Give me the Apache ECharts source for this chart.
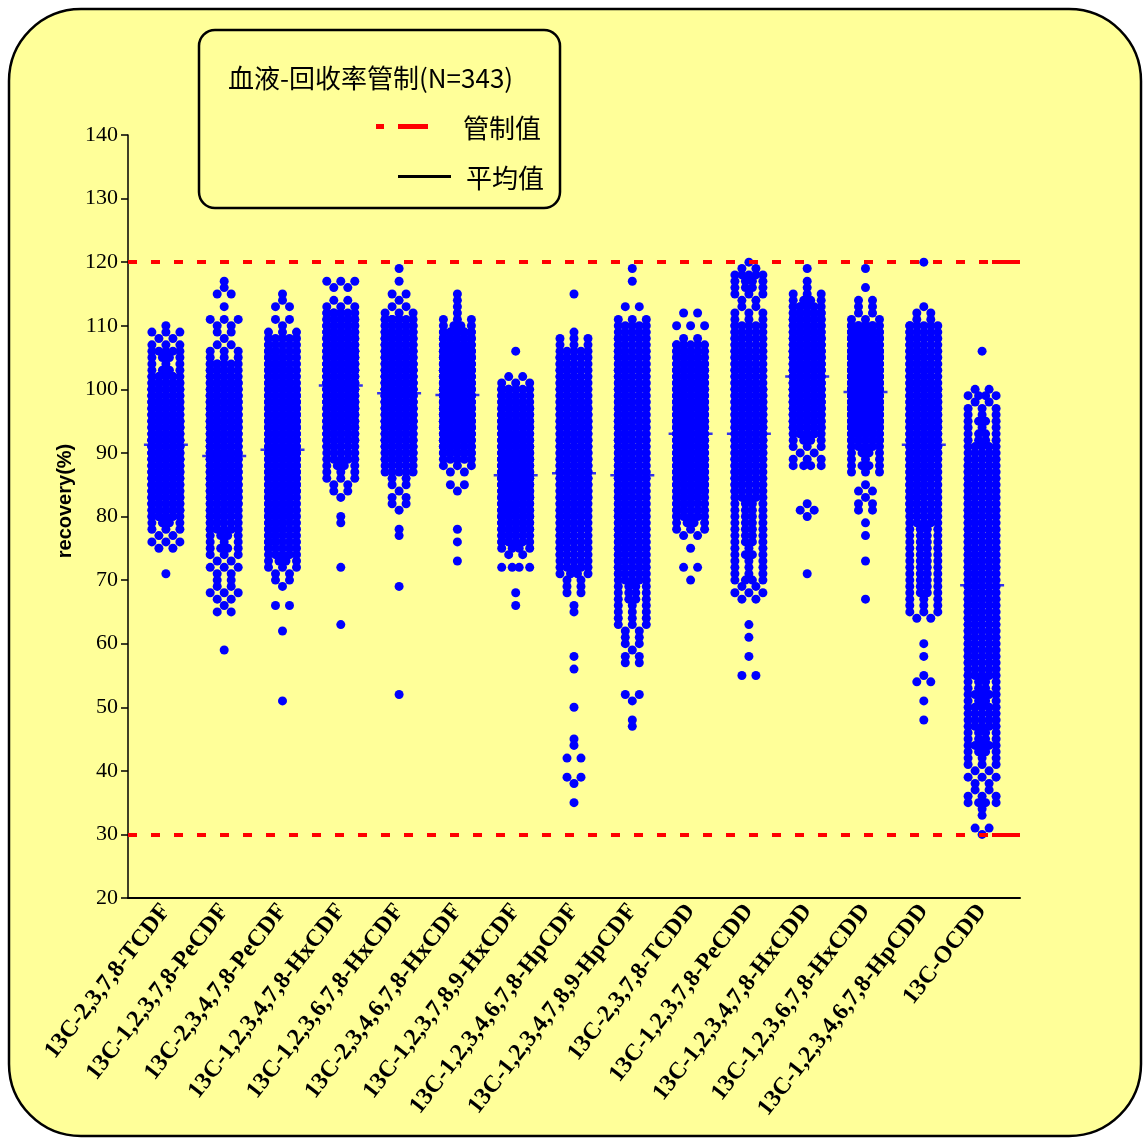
<!DOCTYPE html>
<html>
<head>
<meta charset="utf-8">
<script src="https://cdn.jsdelivr.net/npm/echarts@6/dist/echarts.min.js"></script>
<style>
html,body{margin:0;padding:0;background:#fff;}
#chart{width:1144px;height:1138px;}
</style>
</head>
<body>
<div id="chart"></div>
<script>
// ---------------- data ----------------
const categories = [
  '13C-2,3,7,8-TCDF','13C-1,2,3,7,8-PeCDF','13C-2,3,4,7,8-PeCDF','13C-1,2,3,4,7,8-HxCDF',
  '13C-1,2,3,6,7,8-HxCDF','13C-2,3,4,6,7,8-HxCDF','13C-1,2,3,7,8,9-HxCDF','13C-1,2,3,4,6,7,8-HpCDF',
  '13C-1,2,3,4,7,8,9-HpCDF','13C-2,3,7,8-TCDD','13C-1,2,3,7,8-PeCDD','13C-1,2,3,4,7,8-HxCDD',
  '13C-1,2,3,6,7,8-HxCDD','13C-1,2,3,4,6,7,8-HpCDD','13C-OCDD'
];
const yTicks = [20,30,40,50,60,70,80,90,100,110,120,130,140];
const controlLimits = [120, 30];
const means = [91.3, 89.5, 90.5, 100.6, 99.4, 99.1, 86.5, 86.8, 86.5, 93.0, 93.0, 102.0, 99.6, 91.3, 69.2];
// first recovery value (%) of each count list; counts are per 1% bin
const binStart = [71, 59, 51, 63, 52, 73, 66, 35, 47, 70, 55, 71, 67, 48, 30];

const cnt00 = [1,0,0,0,2,3,2,3,4, 8,10,11,12,13,14,14,15,15,15,16,16,16,15,15,15,14,14,13,12,11,10,9, 4,3,4,5,3,2,3,1];
const cnt01 = [1,0,0,0,0,0,2,1,2,3,2,2,2,3,2,3,4,3,4,
               6,7,8,9,10,10,12,12,13,13,13,13,13,13,12,12,12,12,11,11,11,11,10,10,9,8,7,
               3,3,2,1,2,2,3,0,1,0,2,1,1];
const cnt02 = [1,0,0,0,0,0,0,0,0,0,0,1,0,0,0,2,0,0,1,2,2,3,4,
               5,6,7,7,8,8,9,9,9,9,10,10,10,10,10,10,10,10,10,10,10,10,10,10,10,10,10,9,9,9,8,8,7,6,5,
               3,1,2,0,2,1,1];
const cnt03 = [1,0,0,0,0,0,0,0,0,1,0,0,0,0,0,0,1,1,0,0,1,2,2,3,3,4,5,5,
               8,10,12,13,14,15,15,16,16,16,16,16,16,16,15,15,14,13,12,11,10,8,
               3,2,0,2,3];
const cnt04 = [1,0,0,0,0,0,0,0,0,0,0,0,0,0,0,0,0,1,0,0,0,0,0,0,0,1,1,0,0,1,2,2,1,2,2,5,5,
               8,10,11,12,13,14,15,15,15,16,16,16,16,16,15,15,14,14,13,12,11,10,8,
               3,2,1,2,0,1,0,1];
const cnt05 = [1,0,0,1,0,1,0,0,0,0,0,1,2,0,2,3,5,
               10,12,14,15,16,17,17,18,18,18,18,18,17,17,16,16,15,14,12,10,
               4,3,1,1,1,1];
const cnt06 = [1,0,1,0,0,0,4,0,2,4,
               7,8,10,11,12,13,14,15,15,16,16,16,16,16,15,15,14,14,13,12,11,10,9,8,7,
               3,2,0,0,0,1];
const cnt07 = [1,0,0,1,2,0,0,2,0,1,1,0,0,0,0,1,0,0,0,0,0,1,0,1,0,0,0,0,0,0,1,1,0,2,2,2,
               4,5,5,6,6,7,7,8,8,9,9,9,10,10,10,10,10,10,10,10,10,10,10,10,10,10,10,9,9,9,9,8,8,7,6,5,
               3,3,1,0,0,0,0,0,1];
const cnt08 = [1,1,0,0,1,2,0,0,0,0,2,2,1,2,2,2,3,3,
               3,3,4,4,4,5,6,6,6,6,7,7,7,7,7,7,7,7,7,7,7,7,7,7,7,7,7,7,7,7,7,7,7,7,7,7,7,7,7,7,7,6,6,6,5,5,
               3,0,2,0,0,0,1,0,1];
const cnt09 = [1,0,2,0,0,1,0,2,3,4,
               6,7,8,9,10,11,12,12,13,13,13,13,13,13,13,13,13,13,13,12,12,12,11,11,10,9,8,7,
               2,0,3,0,2];
const cnt10 = [2,0,0,1,0,0,1,0,1,0,0,0,2,3,2,4,3,3,3,4,3,4,4,4,4,4,4,4,5,
               6,7,8,8,9,9,10,10,10,10,10,10,10,10,10,10,10,9,9,9,8,8,8,7,7,6,6,
               3,3,2,2,3,4,4,5,2,1];
const cnt11 = [1,0,0,0,0,0,0,0,0,1,2,1,0,0,0,0,0,4,3,2,3,4,
               9,11,13,14,15,16,16,17,17,17,17,17,16,16,15,15,14,13,12,10,8,
               4,3,1,1,0,1];
const cnt12 = [1,0,0,0,0,0,1,0,0,0,1,0,1,0,2,2,1,2,1,0,3,4,3,4,5,
               10,12,14,15,16,17,17,18,18,18,18,17,17,16,15,14,13,11,9,
               3,2,2,2,0,1,0,0,1];
const cnt13 = [1,0,0,1,0,0,2,1,0,0,1,0,1,0,0,0,2,3,3,3,4,4,4,4,4,4,4,4,4,4,4,5,5,
               6,7,7,8,8,9,9,9,9,10,10,10,10,10,10,10,10,10,10,10,9,9,9,9,8,8,7,7,6,6,
               2,2,1,0,0,0,0,0,0,1];
const cnt14 = [1,2,0,1,1,4,3,2,2,3, 2,3,3,4,5,4,4,5,5,5, 5,4,5,4,4,6,5,6,6,6,
               6,6,6,7,7,7,7,7,7,7, 7,7,7,7,7,6,6,6,6,7, 7,6,6,6,6,6,6,6,6,5,
               5,5,4,4,3,4,3,3,2,4, 2,0,0,0,0,0,1];

const allCounts = [cnt00,cnt01,cnt02,cnt03,cnt04,cnt05,cnt06,cnt07,cnt08,cnt09,cnt10,cnt11,cnt12,cnt13,cnt14];

// ---------------- layout ----------------
const W = 1144, H = 1138;
const GRID_L = 128, GRID_R = 1020, GRID_T = 135, GRID_B = 898;
const CAT_STEP = 58.3;                  // px between category centres
const X_PAD = (GRID_R - GRID_L - CAT_STEP * 14) / 2 / CAT_STEP;
const X_MIN = -X_PAD, X_MAX = 14 + X_PAD;
const COL = 7 / CAT_STEP;               // swarm column spacing, in category units
const OFFS = {1:[0], 2:[-1,1], 3:[-2,0,2], 4:[-2,-0.5,0.5,2], 5:[-2,-1,0,1,2]};

const points = [];
allCounts.forEach((arr, i) => {
  arr.forEach((c, j) => {
    if (!c) return;
    const v = binStart[i] + j;
    const n = Math.min(c, 5);
    for (let k = 0; k < c; k++) {
      points.push([i + OFFS[n][k % n] * COL, v]);
    }
  });
});
const meanPts = means.map((m, i) => [i, m]);

const YELLOW = '#FFFF99';
const chart = echarts.init(document.getElementById('chart'), null, {renderer: 'canvas'});
chart.setOption({
  backgroundColor: '#ffffff',
  animation: false,
  grid: [
    {left: GRID_L, right: W - GRID_R, top: GRID_T, bottom: H - GRID_B},
    {left: GRID_L + X_PAD * CAT_STEP - CAT_STEP / 2, right: W - (GRID_R - X_PAD * CAT_STEP + CAT_STEP / 2), top: GRID_T, bottom: H - GRID_B}
  ],
  xAxis: [
    {type: 'value', gridIndex: 0, min: X_MIN, max: X_MAX,
     axisLine: {show: true, onZero: false, lineStyle: {color: '#000', width: 2}},
     axisTick: {show: false}, axisLabel: {show: false}, splitLine: {show: false}},
    {type: 'category', gridIndex: 1, data: categories, boundaryGap: true,
     axisLine: {show: false}, axisTick: {show: false}, splitLine: {show: false},
     axisLabel: {interval: 0, rotate: 52, margin: 9, color: '#000',
       fontFamily: 'Liberation Serif', fontWeight: 'bold', fontSize: 24}}
  ],
  yAxis: [
    {type: 'value', gridIndex: 0, min: yTicks[0], max: yTicks[yTicks.length - 1], interval: 10,
     axisLine: {show: true, onZero: false, lineStyle: {color: '#000', width: 1.5}},
     axisTick: {show: true, length: 7, lineStyle: {color: '#000', width: 1.5}},
     axisLabel: {color: '#000', fontFamily: 'Liberation Serif', fontSize: 22, margin: 10},
     splitLine: {show: false}},
    {type: 'value', gridIndex: 1, min: 20, max: 140, show: false}
  ],
  graphic: [
    {type: 'rect', z: -10, shape: {x: 9, y: 9, width: 1132, height: 1127, r: 72},
     style: {fill: YELLOW, stroke: '#000', lineWidth: 2.5}},
    {type: 'rect', z: 10, shape: {x: 199, y: 30, width: 361, height: 178, r: 16},
     style: {fill: YELLOW, stroke: '#000', lineWidth: 2.5}},
    {type: 'text', z: 11, style: {x: 228, y: 78, text: '血液-回收率管制(N=343)', fill: '#000',
     font: '26px "Noto Sans CJK TC"', textVerticalAlign: 'middle'}},
    {type: 'rect', z: 11, shape: {x: 376, y: 124, width: 8, height: 5}, style: {fill: '#FF0000'}},
    {type: 'rect', z: 11, shape: {x: 398, y: 124, width: 30, height: 5}, style: {fill: '#FF0000'}},
    {type: 'text', z: 11, style: {x: 463, y: 128, text: '管制值', fill: '#000',
     font: '26px "Noto Sans CJK TC"', textVerticalAlign: 'middle'}},
    {type: 'rect', z: 11, shape: {x: 398, y: 175, width: 53, height: 3}, style: {fill: '#000'}},
    {type: 'text', z: 11, style: {x: 466, y: 178, text: '平均值', fill: '#000',
     font: '26px "Noto Sans CJK TC"', textVerticalAlign: 'middle'}},
    {type: 'text', z: 11, x: 65, y: 501, rotation: Math.PI / 2,
     style: {x: 0, y: 0, text: 'recovery(%)', fill: '#000', font: 'bold 20px "Liberation Sans"',
     textAlign: 'center', textVerticalAlign: 'middle'}}
  ],
  series: [
    {type: 'line', xAxisIndex: 0, yAxisIndex: 0, data: [], z: 1, silent: true,
     markLine: {silent: true, symbol: 'none', label: {show: false},
       data: [
         {yAxis: controlLimits[0], lineStyle: {color: '#FF0000', width: 4, type: [9, 14]}},
         {yAxis: controlLimits[1], lineStyle: {color: '#FF0000', width: 4, type: [9, 14]}},
         [{coord: [X_MAX - 0.48, controlLimits[0]]}, {coord: [X_MAX, controlLimits[0]], lineStyle: {color: '#FF0000', width: 4, type: 'solid'}}],
         [{coord: [X_MAX - 0.48, controlLimits[1]]}, {coord: [X_MAX, controlLimits[1]], lineStyle: {color: '#FF0000', width: 4, type: 'solid'}}]
       ]}},
    {type: 'scatter', xAxisIndex: 0, yAxisIndex: 0, data: meanPts, z: 2, silent: true,
     symbol: 'rect', symbolSize: [44, 2.5], itemStyle: {color: '#0000FF'}},
    {type: 'scatter', xAxisIndex: 0, yAxisIndex: 0, data: points, z: 3, silent: true,
     symbol: 'circle', symbolSize: 9, itemStyle: {color: '#0000FF', opacity: 1},
     large: false, progressive: 0}
  ]
});
</script>
</body>
</html>
